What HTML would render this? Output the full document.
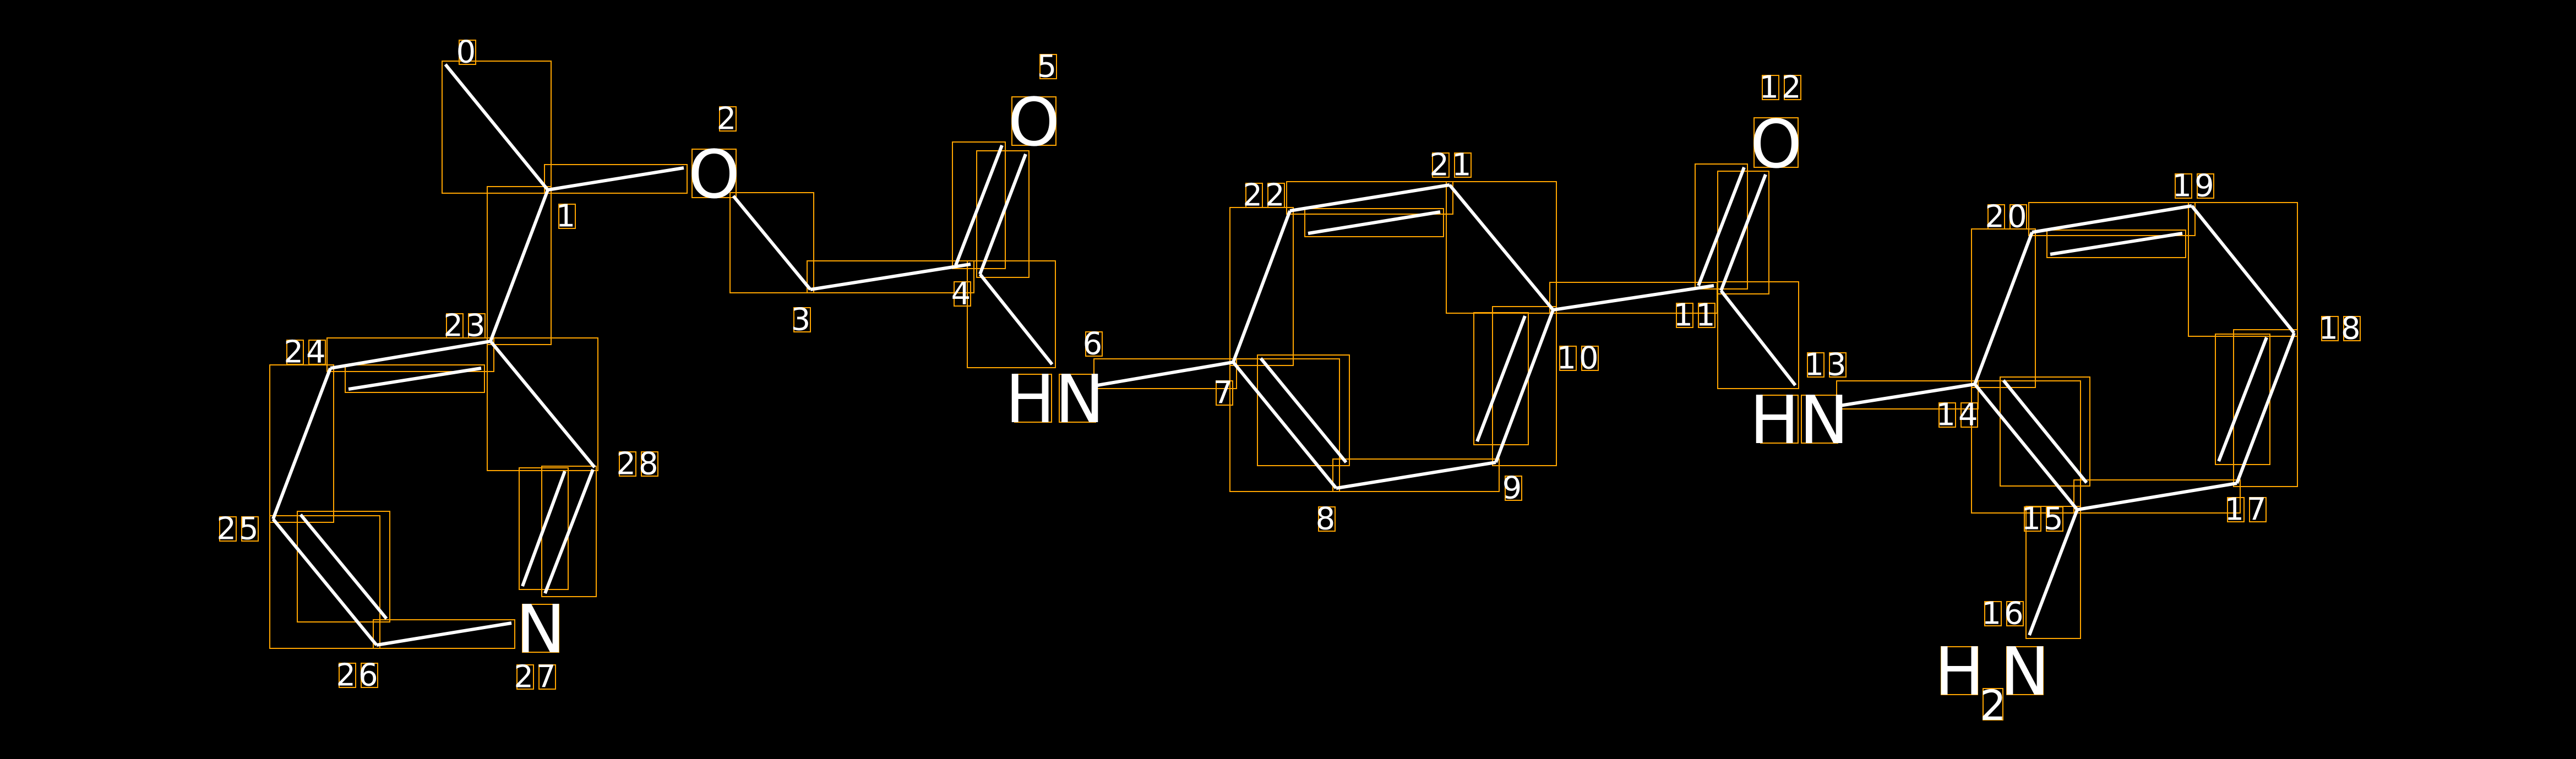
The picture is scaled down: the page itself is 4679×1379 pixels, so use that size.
<!DOCTYPE html>
<html><head><meta charset="utf-8"><style>
html,body{margin:0;padding:0;background:#000;}
svg{display:block;}
.b{stroke:#fff;stroke-width:6;stroke-linecap:butt;}
.r{fill:none;stroke:#FFA500;stroke-width:2;}
.e{font-family:"DejaVu Sans","Liberation Sans",sans-serif;font-size:120px;fill:#fff;text-anchor:middle;}
.n{font-family:"DejaVu Sans","Liberation Sans",sans-serif;font-size:56px;fill:#fff;text-anchor:middle;dominant-baseline:central;letter-spacing:5px;}
</style></head><body>
<svg width="4679" height="1379" viewBox="0 0 4679 1379" xmlns="http://www.w3.org/2000/svg">
<rect width="4679" height="1379" fill="#000"/>
<g class="r">
<rect x="803" y="111" width="198" height="240"/>
<rect x="989" y="299" width="259" height="52"/>
<rect x="1326" y="350" width="152" height="182"/>
<rect x="1466" y="474" width="303" height="58"/>
<rect x="1730" y="258" width="96" height="230"/>
<rect x="1774" y="274" width="95" height="230"/>
<rect x="1757" y="474" width="160" height="194"/>
<rect x="1987" y="652" width="259" height="54"/>
<rect x="2234" y="377" width="115" height="287"/>
<rect x="2337" y="330" width="302" height="59"/>
<rect x="2370" y="379" width="252" height="51"/>
<rect x="2627" y="330" width="200" height="239"/>
<rect x="2711" y="557" width="116" height="289"/>
<rect x="2677" y="568" width="99" height="240"/>
<rect x="2421" y="834" width="302" height="59"/>
<rect x="2234" y="652" width="199" height="241"/>
<rect x="2284" y="645" width="167" height="201"/>
<rect x="2815" y="513" width="304" height="56"/>
<rect x="3079" y="298" width="95" height="227"/>
<rect x="3120" y="311" width="93" height="223"/>
<rect x="3120" y="512" width="147" height="194"/>
<rect x="3336" y="692" width="257" height="51"/>
<rect x="3581" y="416" width="116" height="288"/>
<rect x="3685" y="368" width="302" height="60"/>
<rect x="3718" y="418" width="252" height="50"/>
<rect x="3975" y="368" width="198" height="243"/>
<rect x="4057" y="599" width="116" height="285"/>
<rect x="4024" y="607" width="99" height="237"/>
<rect x="3767" y="872" width="302" height="60"/>
<rect x="3581" y="692" width="198" height="240"/>
<rect x="3633" y="685" width="163" height="198"/>
<rect x="3680" y="920" width="99" height="240"/>
<rect x="885" y="339" width="116" height="287"/>
<rect x="594" y="614" width="303" height="61"/>
<rect x="627" y="663" width="253" height="50"/>
<rect x="490" y="663" width="116" height="286"/>
<rect x="490" y="937" width="200" height="241"/>
<rect x="540" y="929" width="168" height="201"/>
<rect x="678" y="1126" width="257" height="52"/>
<rect x="885" y="614" width="201" height="241"/>
<rect x="984" y="847" width="99" height="237"/>
<rect x="943" y="850" width="89" height="221"/>
<rect x="1257" y="271" width="80" height="88"/>
<rect x="1838" y="176" width="80" height="88"/>
<rect x="1843" y="680" width="67" height="87"/>
<rect x="1924" y="680" width="66" height="87"/>
<rect x="3186" y="214" width="80" height="90"/>
<rect x="3198" y="718" width="68" height="87"/>
<rect x="3272" y="718" width="66" height="87"/>
<rect x="949" y="1098" width="66" height="87"/>
<rect x="3526" y="1175" width="66" height="87"/>
<rect x="3645" y="1175" width="66" height="87"/>
<rect x="3602" y="1251" width="36" height="57"/>
</g>
<g class="r">
<rect x="834" y="73" width="30" height="44"/>
<rect x="1015" y="371" width="30" height="44"/>
<rect x="1307" y="194" width="30" height="44"/>
<rect x="1442" y="559" width="30" height="44"/>
<rect x="1733" y="512" width="30" height="44"/>
<rect x="1889" y="99" width="30" height="44"/>
<rect x="1972" y="603" width="30" height="44"/>
<rect x="2209" y="692" width="30" height="44"/>
<rect x="2395" y="921" width="30" height="44"/>
<rect x="2734" y="865" width="30" height="44"/>
<rect x="2833" y="629" width="30" height="44"/><rect x="2873" y="629" width="30" height="44"/>
<rect x="3045" y="551" width="30" height="44"/><rect x="3085" y="551" width="30" height="44"/>
<rect x="3201" y="137" width="30" height="44"/><rect x="3241" y="137" width="30" height="44"/>
<rect x="3283" y="641" width="30" height="44"/><rect x="3323" y="641" width="30" height="44"/>
<rect x="3522" y="732" width="30" height="44"/><rect x="3562" y="732" width="30" height="44"/>
<rect x="3677" y="921" width="30" height="44"/><rect x="3717" y="921" width="30" height="44"/>
<rect x="3605" y="1093" width="30" height="44"/><rect x="3645" y="1093" width="30" height="44"/>
<rect x="4046" y="904" width="30" height="44"/><rect x="4086" y="904" width="30" height="44"/>
<rect x="4217" y="575" width="30" height="44"/><rect x="4257" y="575" width="30" height="44"/>
<rect x="3951" y="316" width="30" height="44"/><rect x="3991" y="316" width="30" height="44"/>
<rect x="3611" y="372" width="30" height="44"/><rect x="3651" y="372" width="30" height="44"/>
<rect x="2602" y="278" width="30" height="44"/><rect x="2642" y="278" width="30" height="44"/>
<rect x="2263" y="333" width="30" height="44"/><rect x="2303" y="333" width="30" height="44"/>
<rect x="811" y="570" width="30" height="44"/><rect x="851" y="570" width="30" height="44"/>
<rect x="521" y="618" width="30" height="44"/><rect x="561" y="618" width="30" height="44"/>
<rect x="399" y="939" width="30" height="44"/><rect x="439" y="939" width="30" height="44"/>
<rect x="616" y="1205" width="30" height="44"/><rect x="656" y="1205" width="30" height="44"/>
<rect x="939" y="1208" width="30" height="44"/><rect x="979" y="1208" width="30" height="44"/>
<rect x="1125" y="821" width="30" height="44"/><rect x="1165" y="821" width="30" height="44"/>
</g>
<g class="b">
<line x1="809" y1="117" x2="995" y2="345"/>
<line x1="995" y1="345" x2="1242" y2="305"/>
<line x1="1332" y1="356" x2="1472" y2="526"/>
<line x1="1472" y1="526" x2="1763" y2="480"/>
<line x1="1736" y1="482" x2="1820" y2="264"/>
<line x1="1780" y1="498" x2="1863" y2="280"/>
<line x1="1780" y1="498" x2="1911" y2="662"/>
<line x1="1993" y1="700" x2="2240" y2="658"/>
<line x1="2240" y1="658" x2="2343" y2="383"/>
<line x1="2343" y1="383" x2="2633" y2="336"/>
<line x1="2376" y1="424" x2="2616" y2="385"/>
<line x1="2633" y1="336" x2="2821" y2="563"/>
<line x1="2821" y1="563" x2="2717" y2="840"/>
<line x1="2770" y1="574" x2="2683" y2="802"/>
<line x1="2717" y1="840" x2="2427" y2="887"/>
<line x1="2427" y1="887" x2="2240" y2="658"/>
<line x1="2290" y1="651" x2="2445" y2="840"/>
<line x1="2821" y1="563" x2="3113" y2="519"/>
<line x1="3085" y1="519" x2="3168" y2="304"/>
<line x1="3126" y1="528" x2="3207" y2="317"/>
<line x1="3126" y1="528" x2="3261" y2="700"/>
<line x1="3342" y1="737" x2="3587" y2="698"/>
<line x1="3587" y1="698" x2="3691" y2="422"/>
<line x1="3691" y1="422" x2="3981" y2="374"/>
<line x1="3724" y1="462" x2="3964" y2="424"/>
<line x1="3981" y1="374" x2="4167" y2="605"/>
<line x1="4167" y1="605" x2="4063" y2="878"/>
<line x1="4117" y1="613" x2="4030" y2="838"/>
<line x1="4063" y1="878" x2="3773" y2="926"/>
<line x1="3773" y1="926" x2="3587" y2="698"/>
<line x1="3639" y1="691" x2="3790" y2="877"/>
<line x1="3773" y1="926" x2="3686" y2="1154"/>
<line x1="995" y1="345" x2="891" y2="620"/>
<line x1="891" y1="620" x2="600" y2="669"/>
<line x1="633" y1="707" x2="874" y2="669"/>
<line x1="600" y1="669" x2="496" y2="943"/>
<line x1="496" y1="943" x2="684" y2="1172"/>
<line x1="546" y1="935" x2="702" y2="1124"/>
<line x1="684" y1="1172" x2="929" y2="1132"/>
<line x1="891" y1="620" x2="1080" y2="849"/>
<line x1="1077" y1="853" x2="990" y2="1078"/>
<line x1="1026" y1="856" x2="949" y2="1065"/>
</g>
<text class="e" x="1297" y="359">O</text>
<text class="e" x="1878" y="264">O</text>
<text class="e" x="1916" y="767">HN</text>
<text class="e" x="3226" y="304">O</text>
<text class="e" x="3268" y="805">HN</text>
<text class="e" x="982" y="1185">N</text>
<text class="e" x="3559" y="1262">H</text>
<text class="e" x="3678" y="1262">N</text>
<text class="e" x="3620" y="1308" style="font-size:76px">2</text>
<g class="n">
<text x="849" y="95">0</text>
<text x="1030" y="393">1</text>
<text x="1322" y="216">2</text>
<text x="1457" y="581">3</text>
<text x="1748" y="534">4</text>
<text x="1904" y="121">5</text>
<text x="1987" y="625">6</text>
<text x="2224" y="714">7</text>
<text x="2410" y="943">8</text>
<text x="2749" y="887">9</text>
<text x="2868" y="651">10</text>
<text x="3080" y="573">11</text>
<text x="3236" y="159">12</text>
<text x="3318" y="663">13</text>
<text x="3557" y="754">14</text>
<text x="3712" y="943">15</text>
<text x="3640" y="1115">16</text>
<text x="4081" y="926">17</text>
<text x="4252" y="597">18</text>
<text x="3986" y="338">19</text>
<text x="3646" y="394">20</text>
<text x="2637" y="300">21</text>
<text x="2298" y="355">22</text>
<text x="846" y="592">23</text>
<text x="556" y="640">24</text>
<text x="434" y="961">25</text>
<text x="651" y="1227">26</text>
<text x="974" y="1230">27</text>
<text x="1160" y="843">28</text>
</g>
</svg>
</body></html>
